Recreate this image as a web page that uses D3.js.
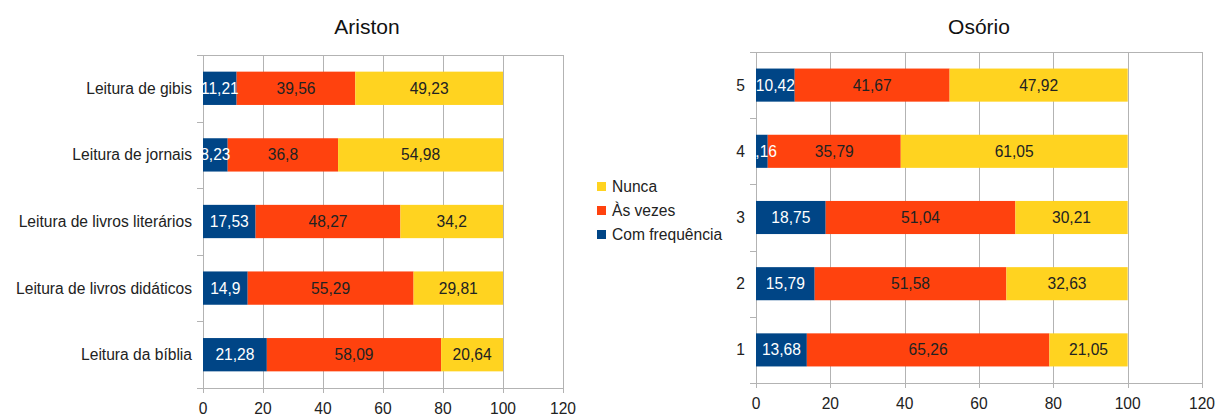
<!DOCTYPE html>
<html>
<head>
<meta charset="utf-8">
<script src="https://cdn.jsdelivr.net/npm/d3@7"></script>
<style>
  html, body { margin: 0; padding: 0; background: #fff; }
  svg { display: block; font-family: "Liberation Sans", Arial, sans-serif; }
</style>
</head>
<body>
<svg id="chart" width="1216" height="418"></svg>
<script>
// Series, in stacking order (left to right)
const seriesNames = ["Com frequência", "Às vezes", "Nunca"];
const seriesColors = ["#004586", "#ff420e", "#ffd320"];
const labelColors = ["#ffffff", "#222222", "#222222"];

// Ariston panel (top to bottom)
const aristonCategories = ["Leitura de gibis", "Leitura de jornais", "Leitura de livros literários", "Leitura de livros didáticos", "Leitura da bíblia"];
const aristonFrequente = [11.21, 8.23, 17.53, 14.9, 21.28];
const aristonAsVezes   = [39.56, 36.8, 48.27, 55.29, 58.09];
const aristonNunca     = [49.23, 54.98, 34.2, 29.81, 20.64];

// Osório panel (top to bottom)
const osorioCategories = ["5", "4", "3", "2", "1"];
const osorioFrequente = [10.42, 3.16, 18.75, 15.79, 13.68];
const osorioAsVezes   = [41.67, 35.79, 51.04, 51.58, 65.26];
const osorioNunca     = [47.92, 61.05, 30.21, 32.63, 21.05];

const xTicks = [0, 20, 40, 60, 80, 100, 120];

const svg = d3.select("#chart");
const gridColor = "#b3b3b3";
const fs = 15.6;
const fmt = v => String(v).replace(".", ",");

function drawPanel(title, titleX, categories, series, box) {
  const x = d3.scaleLinear().domain([0, 120]).range([box.x0, box.x1]);
  const y = d3.scaleBand().domain(categories).range([box.y0, box.y1]).paddingInner(0.5).paddingOuter(0.25);
  const g = svg.append("g");

  // vertical grid lines + ticks below the axis
  g.selectAll("line.grid").data(xTicks).join("line")
    .attr("x1", d => Math.round(x(d)) + 0.5).attr("x2", d => Math.round(x(d)) + 0.5)
    .attr("y1", box.y0).attr("y2", box.y1 + 5)
    .attr("stroke", gridColor).attr("stroke-width", 1);

  // top line and bottom axis line
  [box.y0, box.y1].forEach(yy => {
    g.append("line")
      .attr("x1", box.x0 - 6).attr("x2", box.x1 + 0.5)
      .attr("y1", yy + 0.5).attr("y2", yy + 0.5)
      .attr("stroke", gridColor);
  });

  // category boundary ticks on the left axis
  d3.range(1, categories.length).forEach(i => {
    const yy = Math.round(box.y0 + i * (box.y1 - box.y0) / categories.length) + 0.5;
    g.append("line").attr("x1", box.x0 - 6).attr("x2", box.x0)
      .attr("y1", yy).attr("y2", yy).attr("stroke", gridColor);
  });

  // x tick labels
  g.selectAll("text.xt").data(xTicks).join("text")
    .attr("x", d => x(d)).attr("y", box.y1 + 26)
    .attr("text-anchor", "middle").attr("font-size", fs).attr("fill", "#222")
    .text(d => d);

  // category labels
  g.selectAll("text.cat").data(categories).join("text")
    .attr("x", box.x0 - 11).attr("y", d => y(d) + y.bandwidth() / 2)
    .attr("dy", "0.35em").attr("text-anchor", "end")
    .attr("font-size", fs).attr("fill", "#222")
    .text(d => d);

  // stacked bars
  const rows = categories.map((c, i) => {
    let acc = 0;
    return series.map((s, k) => {
      const seg = { cat: c, k, v: s[i], start: acc, end: acc + s[i] };
      acc += s[i];
      return seg;
    });
  }).flat();

  g.selectAll("rect.seg").data(rows).join("rect")
    .attr("x", d => x(d.start)).attr("width", d => x(d.end) - x(d.start))
    .attr("y", d => y(d.cat)).attr("height", y.bandwidth())
    .attr("fill", d => seriesColors[d.k]);

  g.selectAll("text.val").data(rows).join("text")
    .attr("x", d => (x(d.start) + x(d.end)) / 2)
    .attr("y", d => y(d.cat) + y.bandwidth() / 2)
    .attr("dy", "0.35em").attr("text-anchor", "middle")
    .attr("font-size", fs).attr("fill", d => labelColors[d.k])
    .text(d => fmt(d.v));

  // title
  svg.append("text").attr("x", titleX).attr("y", 34)
    .attr("text-anchor", "middle").attr("font-size", 21).attr("fill", "#111")
    .text(title);
}

drawPanel("Ariston", 367, aristonCategories,
  [aristonFrequente, aristonAsVezes, aristonNunca],
  { x0: 203, x1: 563, y0: 55, y1: 388 });

drawPanel("Osório", 979, osorioCategories,
  [osorioFrequente, osorioAsVezes, osorioNunca],
  { x0: 756, x1: 1202, y0: 52, y1: 383 });

// legend
const legendOrder = [2, 1, 0];
const lg = svg.append("g");
legendOrder.forEach((k, i) => {
  const yy = 182 + i * 24;
  lg.append("rect").attr("x", 597).attr("y", yy).attr("width", 9).attr("height", 9)
    .attr("fill", seriesColors[k]);
  lg.append("text").attr("x", 612).attr("y", yy + 4.5).attr("dy", "0.35em")
    .attr("font-size", fs).attr("fill", "#222").text(seriesNames[k]);
});
</script>
</body>
</html>
